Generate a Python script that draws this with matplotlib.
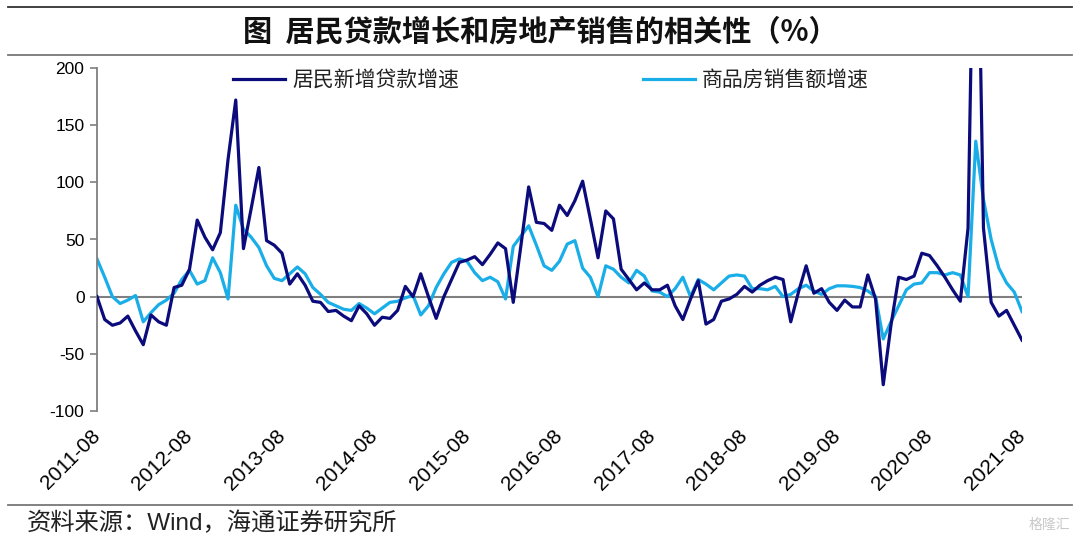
import matplotlib
matplotlib.use("Agg")
import matplotlib.pyplot as plt
from matplotlib.lines import Line2D
import numpy as np

plt.rcParams['font.family'] = ['Liberation Sans', 'Noto Sans CJK SC', 'DejaVu Sans']
plt.rcParams['axes.unicode_minus'] = False

# ---- data (monthly, 2011-08 .. 2021-08) ----
loan_growth = [0, -20, -25, -23, -17, -30, -42, -16, -22, -25,
               8, 10, 24, 67, 52, 41, 56, 120, 172, 42,
               77, 113, 49, 45, 38, 11, 20, 10, -4, -5,
               -13, -12, -17, -21, -8, -15, -25, -18, -19, -12,
               9, 0, 20, 0, -19, 0, 15, 30, 32, 35,
               28, 37, 47, 42, -5, 45, 96, 65, 64, 58,
               80, 71, 84, 101, 68, 34, 75, 68, 24, 15,
               6, 12, 6, 6, 10, -8, -20, -2, 14, -24,
               -20, -4, -2, 2, 9, 4, 10, 14, 17, 15,
               -22, 4, 27, 3, 7, -5, -12, -3, -9, -9,
               19, -2, -77, -25, 17, 15, 18, 38, 36, 27,
               17, 6, -4, 60, 450, 60, -5, -17, -12, -25,
               -38]
sales_growth = [33, 17, 0, -6, -3, 1, -22, -14, -7, -3,
                3, 15, 23, 11, 14, 34, 21, -2, 80, 59,
                52, 43, 27, 16, 14, 20, 26, 20, 8, 2,
                -5, -8, -11, -12, -6, -10, -15, -10, -5, -4,
                -1, 1, -16, -8, 8, 20, 30, 33, 31, 21,
                14, 17, 13, -2, 44, 53, 62, 45, 27, 23,
                31, 46, 49, 25, 17, 0, 27, 24, 17, 12,
                23, 18, 5, 4, 0, 7, 17, 0, 15, 11,
                6, 12, 18, 19, 18, 7, 7, 6, 9, 0,
                2, 7, 10, 5, 2, 7, 9.5, 9.5, 9, 8,
                5, 0, -37, -22, -8, 6, 11, 12, 21, 21,
                19, 21, 19, 0, 136, 85, 50, 25, 12, 4,
                -13]
tick_labels = ['2011-08', '2012-08', '2013-08', '2014-08', '2015-08', '2016-08',
               '2017-08', '2018-08', '2019-08', '2020-08', '2021-08']
series_names = ['居民新增贷款增速', '商品房销售额增速']
title_text = '图  居民贷款增长和房地产销售的相关性（%）'
source_text = '资料来源：Wind，海通证券研究所'

NAVY = '#0B0B7C'
SKY = '#19AEE8'
GRAY = '#7F7F7F'

fig = plt.figure(figsize=(10.8, 5.45), dpi=100)
ax = fig.add_axes([97/1080, 1-411/545, (1022-97)/1080, (411-68)/545])

x = np.arange(len(loan_growth))
ax.plot(x, loan_growth, color=NAVY, lw=2.3, solid_joinstyle='round', label=series_names[0], zorder=3)
ax.plot(x, sales_growth, color=SKY, lw=2.3, solid_joinstyle='round', label=series_names[1], zorder=2)
ax.axhline(0, color=GRAY, lw=1.5, zorder=1)

ax.set_xlim(0, 120)
ax.set_ylim(-100, 200)
ax.set_yticks(np.arange(-100, 201, 50))
ax.tick_params(axis='y', direction='out', length=5, width=1.2, color=GRAY, labelsize=12.5, pad=4)
ax.set_xticks(np.arange(0, 121, 12))
ax.set_xticklabels(tick_labels, rotation=45, ha='right', va='center', rotation_mode='anchor')
ax.tick_params(axis='x', length=0, labelsize=15, pad=16)
for s in ['top', 'right', 'bottom']:
    ax.spines[s].set_visible(False)
ax.spines['left'].set_color(GRAY)
ax.spines['left'].set_linewidth(1.3)

leg = ax.legend(loc='center', bbox_to_anchor=(551/1080, 1-80/545), bbox_transform=fig.transFigure,
                ncol=2, frameon=False, handlelength=2.5, handletextpad=0.35, columnspacing=8.8,
                borderpad=0, prop={'family': ['Noto Sans CJK SC'], 'size': 15})
for t in leg.get_texts():
    t.set_color('#222222')

# title, rules and source
fig.text(540/1080, 1-32/545, title_text, ha='center', va='center', fontsize=21, fontweight='bold',
         family=['Noto Sans CJK SC', 'DejaVu Sans'], color='#111111')
for yy, c in [(7, '#333333'), (55, '#777777'), (505, '#777777')]:
    fig.add_artist(Line2D([8/1080, 1072/1080], [1-yy/545, 1-yy/545], transform=fig.transFigure,
                          color=c, lw=1.3))
fig.text(27/1080, 1-523/545, source_text, ha='left', va='center', fontsize=17.5,
         family=['Liberation Sans', 'Noto Sans CJK SC', 'DejaVu Sans'], color='#222222')
fig.text(1070/1080, 1-525/545, '格隆汇', ha='right', va='center', fontsize=10,
         family=['Noto Sans CJK SC'], color='#C8C8C8')

fig.savefig('out.png', dpi=100)
